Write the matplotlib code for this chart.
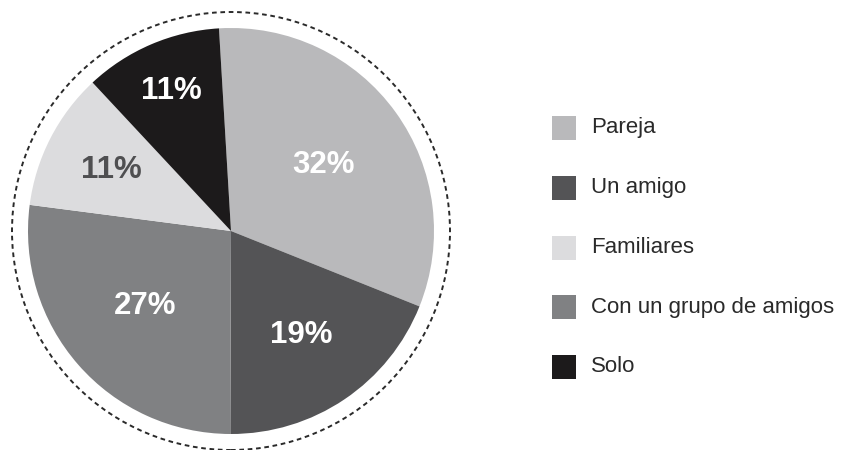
import matplotlib.pyplot as plt
import numpy as np
from matplotlib.patches import Circle, Rectangle

plt.rcParams['font.family'] = ['Liberation Sans', 'DejaVu Sans']

# slices, clockwise from the top
slices = ['Pareja', 'Un amigo', 'Con un grupo de amigos', 'Familiares', 'Solo']
shares = [32, 19, 27, 11, 11]
colors = ['#b9b9bb', '#545456', '#808183', '#dcdcde', '#1c1a1b']
label_colors = ['white', 'white', 'white', '#4f4f51', 'white']
label_dist = [0.56, 0.62, 0.56, 0.66, 0.75]

legend_order = ['Pareja', 'Un amigo', 'Familiares', 'Con un grupo de amigos', 'Solo']

fig = plt.figure(figsize=(8.42, 4.5), dpi=100)
ax = fig.add_axes([0, 0, 1, 1])

cx, cy, r = 231, 219, 203
wedges, _ = ax.pie(shares, colors=colors, startangle=93.4, counterclock=False,
                   center=(cx, cy), radius=r, wedgeprops=dict(linewidth=0))

for w, val, col, d in zip(wedges, shares, label_colors, label_dist):
    mid = np.deg2rad((w.theta1 + w.theta2) / 2)
    ax.text(cx + d * r * np.cos(mid), cy + d * r * np.sin(mid), f'{val}%',
            ha='center', va='center', fontsize=22.5, fontweight='bold', color=col)

# dashed ring around the pie
ax.add_patch(Circle((cx, cy), 219, fill=False, linestyle=(0, (2.4, 1.9)),
                    linewidth=1.4, edgecolor='#2a2a2a'))

# legend
for i, name in enumerate(legend_order):
    y = 322 - i * 59.75
    ax.add_patch(Rectangle((552, y - 12), 24, 24,
                           facecolor=colors[slices.index(name)], linewidth=0))
    ax.text(591, y, name, ha='left', va='center', fontsize=16, color='#2a2a2a')

ax.set_xlim(0, 842)
ax.set_ylim(0, 450)
ax.set_aspect('equal')
ax.axis('off')

fig.savefig('out.png', dpi=100)
